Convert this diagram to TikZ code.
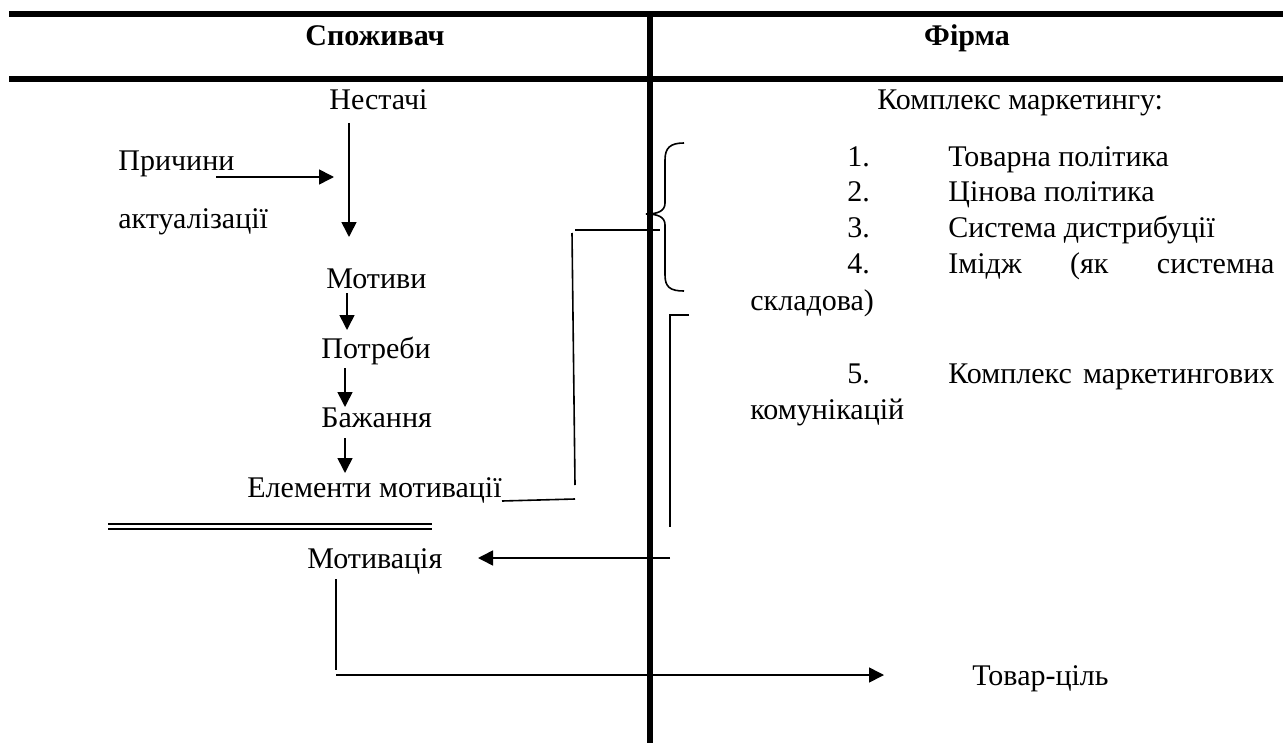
\documentclass[tikz,border=0pt]{standalone}
\usepackage{fontspec}
\setmainfont{Liberation Serif}
\usetikzlibrary{arrows.meta}
\tikzset{
  lbl/.style={inner sep=0pt, anchor=base west, font=\fontsize{15}{17}\selectfont},
  hdr/.style={lbl, font=\fontsize{15}{17}\selectfont\bfseries},
  tablerule/.style={line width=2.75pt},
  thinline/.style={line width=0.8pt},
  arr/.style={thinline, -{Triangle[length=7.5pt,width=7.5pt]}}
}

\begin{document}
\begin{tikzpicture}[x=0.5pt, y=-0.5pt]
			%%%%% START %%%%%
			\useasboundingbox (0, 0) rectangle (1283, 743);
			
			% table frame
			\draw[tablerule] (9, 14) -- (1283, 14);
			\draw[tablerule] (9, 79) -- (1283, 79);
			\draw[tablerule] (650, 14) -- (650, 743);
			
			\node[hdr] (spozh) at (305, 46) {Споживач};
			\node[hdr, anchor=base] (firma) at (967, 46) {Фірма};
			
			% consumer side
			\node[lbl] (nest) at (329, 110) {Нестачі};
			\node[lbl] (prych) at (118, 170) {Причини};
			\node[lbl] (akt) at (118, 228) {актуалізації};
			\node[lbl] (motyvy) at (326, 288) {Мотиви};
			\node[lbl] (potr) at (321, 358) {Потреби};
			\node[lbl] (bazh) at (321, 427) {Бажання};
			\node[lbl] (elem) at (247, 497) {Елементи мотивації};
			\node[lbl] (motyv) at (307, 568) {Мотивація};
			\node[lbl] (tovar) at (972, 685) {Товар-ціль};
			
			\coordinate (nestB) at (349, 123);
			\coordinate (nestE) at (349, 237);
			\coordinate (prychB) at (216, 177);
			\coordinate (prychE) at (334, 177);
			\coordinate (motyvyB) at (347, 293);
			\coordinate (potrT) at (347, 330);
			\coordinate (potrB) at (345, 368);
			\coordinate (bazhT) at (345, 407);
			\coordinate (bazhB) at (345, 438);
			\coordinate (elemT) at (345, 473);
			
			\draw[arr] (nestB) -- (nestE);
			\draw[arr] (prychB) -- (prychE);
			\draw[arr] (motyvyB) -- (potrT);
			\draw[arr] (potrB) -- (bazhT);
			\draw[arr] (bazhB) -- (elemT);
			
			\draw[thinline] (108, 524) -- (432, 524);
			\draw[thinline] (108, 529) -- (432, 529);
			
			% links from the elements
			\coordinate (elemR) at (502, 501);
			\coordinate (linkA) at (575, 499);
			\coordinate (linkB) at (575, 485);
			\coordinate (linkC) at (572, 233);
			\coordinate (linkD) at (575, 230);
			\coordinate (linkE) at (660, 230);
			\draw[thinline] (elemR) -- (linkA);
			\draw[thinline] (linkB) -- (linkC);
			\draw[thinline] (linkD) -- (linkE);
			
			% brace
			\draw[thinline] (684, 143) .. controls (670, 143) and (665, 148) .. (665, 160)
			  -- (665, 203) .. controls (665, 211) and (658, 214) .. (646, 214)
			  .. controls (658, 214) and (665, 217) .. (665, 225)
			  -- (665, 275) .. controls (665, 287) and (670, 291) .. (684, 291);
			
			% communications to motivation
			\coordinate (komT) at (689, 315);
			\coordinate (komC) at (670, 315);
			\coordinate (komB) at (670, 527);
			\coordinate (motyvR) at (670, 558);
			\coordinate (motyvE) at (478, 558);
			\draw[thinline] (komT) -- (komC) -- (komB);
			\draw[arr] (motyvR) -- (motyvE);
			
			\coordinate (motyvB) at (336, 579);
			\coordinate (corner) at (336, 670);
			\coordinate (tovarB) at (336, 675);
			\coordinate (tovarE) at (884, 675);
			\draw[thinline] (motyvB) -- (corner);
			\draw[arr] (tovarB) -- (tovarE);
			
			% firm side
			\node[lbl] (kompl) at (877, 110) {Комплекс маркетингу:};
			\node[lbl] (n1) at (847, 167) {1.};
			\node[lbl] (t1) at (948, 167) {Товарна політика};
			\node[lbl] (n2) at (847, 202) {2.};
			\node[lbl] (t2) at (948, 202) {Цінова політика};
			\node[lbl] (n3) at (847, 237) {3.};
			\node[lbl] (t3) at (948, 237) {Система дистрибуції};
			\node[lbl] (n4) at (847, 273) {4.};
			\node[lbl] (t4) at (948, 273) {\hbox to 163pt{Імідж\hfil (як\hfil системна}};
			\node[lbl] (skl) at (750, 310) {складова)};
			\node[lbl] (n5) at (847, 383) {5.};
			\node[lbl] (t5) at (948, 383) {\hbox to 163pt{Комплекс\hfil маркетингових}};
			\node[lbl] (komun) at (750, 419) {комунікацій};
			
			%%%%% END %%%%%
\end{tikzpicture}
\end{document}
